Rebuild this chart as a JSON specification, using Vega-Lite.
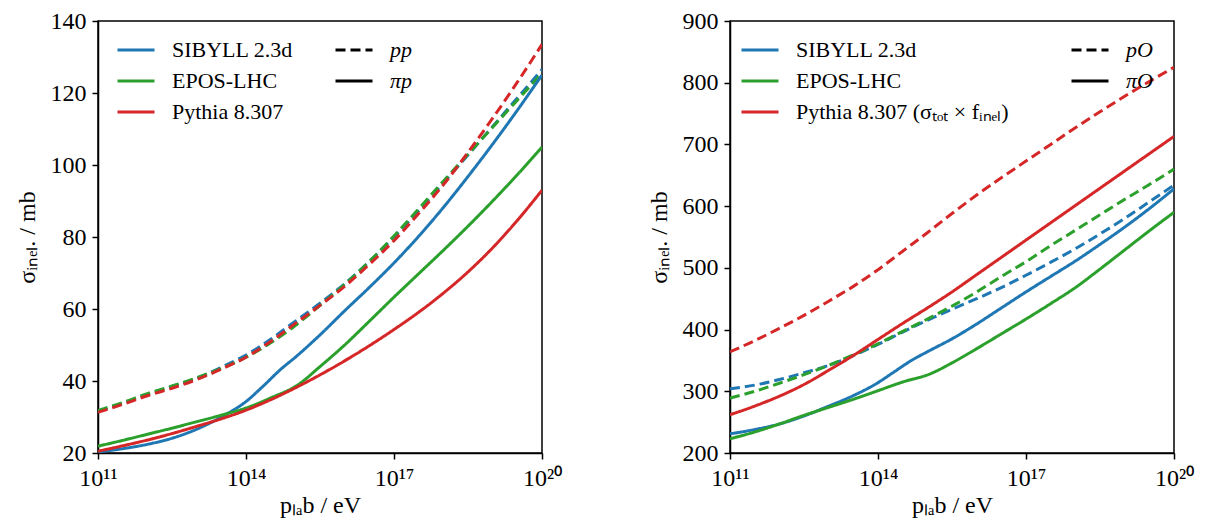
{
  "$schema": "https://vega.github.io/schema/vega-lite/v6.json",
  "padding": {"left": 14, "top": 8, "right": 5, "bottom": 3},
  "datasets": {
    "pp": [
      {"m": "SIBYLL 2.3d", "c": "pp", "E": 1e11, "s": 31.5},
      {"m": "SIBYLL 2.3d", "c": "pp", "E": 3.162e11, "s": 33.8},
      {"m": "SIBYLL 2.3d", "c": "pp", "E": 1e12, "s": 36.2},
      {"m": "SIBYLL 2.3d", "c": "pp", "E": 3.162e12, "s": 38.5},
      {"m": "SIBYLL 2.3d", "c": "pp", "E": 1e13, "s": 40.8},
      {"m": "SIBYLL 2.3d", "c": "pp", "E": 3.162e13, "s": 43.8},
      {"m": "SIBYLL 2.3d", "c": "pp", "E": 1e14, "s": 47.2},
      {"m": "SIBYLL 2.3d", "c": "pp", "E": 3.162e14, "s": 51.6},
      {"m": "SIBYLL 2.3d", "c": "pp", "E": 1e15, "s": 56.6},
      {"m": "SIBYLL 2.3d", "c": "pp", "E": 3.162e15, "s": 61.6},
      {"m": "SIBYLL 2.3d", "c": "pp", "E": 1e16, "s": 67.0},
      {"m": "SIBYLL 2.3d", "c": "pp", "E": 3.162e16, "s": 73.2},
      {"m": "SIBYLL 2.3d", "c": "pp", "E": 1e17, "s": 80.0},
      {"m": "SIBYLL 2.3d", "c": "pp", "E": 3.162e17, "s": 87.3},
      {"m": "SIBYLL 2.3d", "c": "pp", "E": 1e18, "s": 95.0},
      {"m": "SIBYLL 2.3d", "c": "pp", "E": 3.162e18, "s": 102.8},
      {"m": "SIBYLL 2.3d", "c": "pp", "E": 1e19, "s": 110.7},
      {"m": "SIBYLL 2.3d", "c": "pp", "E": 3.162e19, "s": 118.6},
      {"m": "SIBYLL 2.3d", "c": "pp", "E": 1e20, "s": 126.5},
      {"m": "EPOS-LHC", "c": "pp", "E": 1e11, "s": 31.8},
      {"m": "EPOS-LHC", "c": "pp", "E": 3.162e11, "s": 34.0},
      {"m": "EPOS-LHC", "c": "pp", "E": 1e12, "s": 36.5},
      {"m": "EPOS-LHC", "c": "pp", "E": 3.162e12, "s": 38.6},
      {"m": "EPOS-LHC", "c": "pp", "E": 1e13, "s": 40.9},
      {"m": "EPOS-LHC", "c": "pp", "E": 3.162e13, "s": 43.5},
      {"m": "EPOS-LHC", "c": "pp", "E": 1e14, "s": 46.6},
      {"m": "EPOS-LHC", "c": "pp", "E": 3.162e14, "s": 50.6},
      {"m": "EPOS-LHC", "c": "pp", "E": 1e15, "s": 55.4},
      {"m": "EPOS-LHC", "c": "pp", "E": 3.162e15, "s": 61.0},
      {"m": "EPOS-LHC", "c": "pp", "E": 1e16, "s": 66.8},
      {"m": "EPOS-LHC", "c": "pp", "E": 3.162e16, "s": 73.2},
      {"m": "EPOS-LHC", "c": "pp", "E": 1e17, "s": 80.3},
      {"m": "EPOS-LHC", "c": "pp", "E": 3.162e17, "s": 87.8},
      {"m": "EPOS-LHC", "c": "pp", "E": 1e18, "s": 95.5},
      {"m": "EPOS-LHC", "c": "pp", "E": 3.162e18, "s": 103.0},
      {"m": "EPOS-LHC", "c": "pp", "E": 1e19, "s": 110.5},
      {"m": "EPOS-LHC", "c": "pp", "E": 3.162e19, "s": 118.0},
      {"m": "EPOS-LHC", "c": "pp", "E": 1e20, "s": 125.5},
      {"m": "Pythia 8.307", "c": "pp", "E": 1e11, "s": 31.3},
      {"m": "Pythia 8.307", "c": "pp", "E": 3.162e11, "s": 33.5},
      {"m": "Pythia 8.307", "c": "pp", "E": 1e12, "s": 35.9},
      {"m": "Pythia 8.307", "c": "pp", "E": 3.162e12, "s": 38.0},
      {"m": "Pythia 8.307", "c": "pp", "E": 1e13, "s": 40.4},
      {"m": "Pythia 8.307", "c": "pp", "E": 3.162e13, "s": 43.3},
      {"m": "Pythia 8.307", "c": "pp", "E": 1e14, "s": 46.6},
      {"m": "Pythia 8.307", "c": "pp", "E": 3.162e14, "s": 51.0},
      {"m": "Pythia 8.307", "c": "pp", "E": 1e15, "s": 56.0},
      {"m": "Pythia 8.307", "c": "pp", "E": 3.162e15, "s": 61.0},
      {"m": "Pythia 8.307", "c": "pp", "E": 1e16, "s": 66.3},
      {"m": "Pythia 8.307", "c": "pp", "E": 3.162e16, "s": 72.4},
      {"m": "Pythia 8.307", "c": "pp", "E": 1e17, "s": 79.0},
      {"m": "Pythia 8.307", "c": "pp", "E": 3.162e17, "s": 86.5},
      {"m": "Pythia 8.307", "c": "pp", "E": 1e18, "s": 94.5},
      {"m": "Pythia 8.307", "c": "pp", "E": 3.162e18, "s": 103.5},
      {"m": "Pythia 8.307", "c": "pp", "E": 1e19, "s": 113.0},
      {"m": "Pythia 8.307", "c": "pp", "E": 3.162e19, "s": 123.0},
      {"m": "Pythia 8.307", "c": "pp", "E": 1e20, "s": 133.5},
      {"m": "SIBYLL 2.3d", "c": "πp", "E": 1e11, "s": 20.3},
      {"m": "SIBYLL 2.3d", "c": "πp", "E": 3.162e11, "s": 21.2},
      {"m": "SIBYLL 2.3d", "c": "πp", "E": 1e12, "s": 22.4},
      {"m": "SIBYLL 2.3d", "c": "πp", "E": 3.162e12, "s": 24.1},
      {"m": "SIBYLL 2.3d", "c": "πp", "E": 1e13, "s": 26.6},
      {"m": "SIBYLL 2.3d", "c": "πp", "E": 3.162e13, "s": 30.0},
      {"m": "SIBYLL 2.3d", "c": "πp", "E": 1e14, "s": 34.3},
      {"m": "SIBYLL 2.3d", "c": "πp", "E": 2.239e14, "s": 38.6},
      {"m": "SIBYLL 2.3d", "c": "πp", "E": 5.012e14, "s": 43.2},
      {"m": "SIBYLL 2.3d", "c": "πp", "E": 1e15, "s": 46.6},
      {"m": "SIBYLL 2.3d", "c": "πp", "E": 3.162e15, "s": 52.8},
      {"m": "SIBYLL 2.3d", "c": "πp", "E": 1e16, "s": 59.5},
      {"m": "SIBYLL 2.3d", "c": "πp", "E": 3.162e16, "s": 66.0},
      {"m": "SIBYLL 2.3d", "c": "πp", "E": 1e17, "s": 72.8},
      {"m": "SIBYLL 2.3d", "c": "πp", "E": 3.162e17, "s": 80.2},
      {"m": "SIBYLL 2.3d", "c": "πp", "E": 1e18, "s": 88.2},
      {"m": "SIBYLL 2.3d", "c": "πp", "E": 3.162e18, "s": 96.8},
      {"m": "SIBYLL 2.3d", "c": "πp", "E": 1e19, "s": 105.8},
      {"m": "SIBYLL 2.3d", "c": "πp", "E": 3.162e19, "s": 115.2},
      {"m": "SIBYLL 2.3d", "c": "πp", "E": 1e20, "s": 125.0},
      {"m": "EPOS-LHC", "c": "πp", "E": 1e11, "s": 21.9},
      {"m": "EPOS-LHC", "c": "πp", "E": 3.162e11, "s": 23.5},
      {"m": "EPOS-LHC", "c": "πp", "E": 1e12, "s": 25.2},
      {"m": "EPOS-LHC", "c": "πp", "E": 3.162e12, "s": 26.9},
      {"m": "EPOS-LHC", "c": "πp", "E": 1e13, "s": 28.7},
      {"m": "EPOS-LHC", "c": "πp", "E": 3.162e13, "s": 30.5},
      {"m": "EPOS-LHC", "c": "πp", "E": 1e14, "s": 32.5},
      {"m": "EPOS-LHC", "c": "πp", "E": 3.162e14, "s": 35.3},
      {"m": "EPOS-LHC", "c": "πp", "E": 1.148e15, "s": 39.0},
      {"m": "EPOS-LHC", "c": "πp", "E": 3.162e15, "s": 44.0},
      {"m": "EPOS-LHC", "c": "πp", "E": 1e16, "s": 50.0},
      {"m": "EPOS-LHC", "c": "πp", "E": 3.162e16, "s": 56.6},
      {"m": "EPOS-LHC", "c": "πp", "E": 1e17, "s": 63.3},
      {"m": "EPOS-LHC", "c": "πp", "E": 3.162e17, "s": 69.8},
      {"m": "EPOS-LHC", "c": "πp", "E": 1e18, "s": 76.3},
      {"m": "EPOS-LHC", "c": "πp", "E": 3.162e18, "s": 83.0},
      {"m": "EPOS-LHC", "c": "πp", "E": 1e19, "s": 90.0},
      {"m": "EPOS-LHC", "c": "πp", "E": 3.162e19, "s": 97.3},
      {"m": "EPOS-LHC", "c": "πp", "E": 1e20, "s": 105.0},
      {"m": "Pythia 8.307", "c": "πp", "E": 1e11, "s": 20.5},
      {"m": "Pythia 8.307", "c": "πp", "E": 3.162e11, "s": 22.0},
      {"m": "Pythia 8.307", "c": "πp", "E": 1e12, "s": 23.6},
      {"m": "Pythia 8.307", "c": "πp", "E": 3.162e12, "s": 25.4},
      {"m": "Pythia 8.307", "c": "πp", "E": 1e13, "s": 27.4},
      {"m": "Pythia 8.307", "c": "πp", "E": 3.162e13, "s": 29.5},
      {"m": "Pythia 8.307", "c": "πp", "E": 1e14, "s": 31.9},
      {"m": "Pythia 8.307", "c": "πp", "E": 3.162e14, "s": 34.8},
      {"m": "Pythia 8.307", "c": "πp", "E": 1e15, "s": 38.1},
      {"m": "Pythia 8.307", "c": "πp", "E": 3.162e15, "s": 41.7},
      {"m": "Pythia 8.307", "c": "πp", "E": 1e16, "s": 45.6},
      {"m": "Pythia 8.307", "c": "πp", "E": 3.162e16, "s": 49.8},
      {"m": "Pythia 8.307", "c": "πp", "E": 1e17, "s": 54.3},
      {"m": "Pythia 8.307", "c": "πp", "E": 3.162e17, "s": 59.1},
      {"m": "Pythia 8.307", "c": "πp", "E": 1e18, "s": 64.4},
      {"m": "Pythia 8.307", "c": "πp", "E": 3.162e18, "s": 70.3},
      {"m": "Pythia 8.307", "c": "πp", "E": 1e19, "s": 77.0},
      {"m": "Pythia 8.307", "c": "πp", "E": 3.162e19, "s": 84.6},
      {"m": "Pythia 8.307", "c": "πp", "E": 1e20, "s": 93.0}
    ],
    "pO": [
      {"m": "SIBYLL 2.3d", "c": "pO", "E": 1e11, "s": 304},
      {"m": "SIBYLL 2.3d", "c": "pO", "E": 3.162e11, "s": 310},
      {"m": "SIBYLL 2.3d", "c": "pO", "E": 1e12, "s": 319},
      {"m": "SIBYLL 2.3d", "c": "pO", "E": 3.162e12, "s": 330},
      {"m": "SIBYLL 2.3d", "c": "pO", "E": 1e13, "s": 342},
      {"m": "SIBYLL 2.3d", "c": "pO", "E": 3.162e13, "s": 358},
      {"m": "SIBYLL 2.3d", "c": "pO", "E": 1e14, "s": 376},
      {"m": "SIBYLL 2.3d", "c": "pO", "E": 3.162e14, "s": 396},
      {"m": "SIBYLL 2.3d", "c": "pO", "E": 1e15, "s": 415},
      {"m": "SIBYLL 2.3d", "c": "pO", "E": 3.162e15, "s": 433},
      {"m": "SIBYLL 2.3d", "c": "pO", "E": 1e16, "s": 450},
      {"m": "SIBYLL 2.3d", "c": "pO", "E": 3.162e16, "s": 468},
      {"m": "SIBYLL 2.3d", "c": "pO", "E": 1e17, "s": 488},
      {"m": "SIBYLL 2.3d", "c": "pO", "E": 3.162e17, "s": 509},
      {"m": "SIBYLL 2.3d", "c": "pO", "E": 1e18, "s": 531},
      {"m": "SIBYLL 2.3d", "c": "pO", "E": 3.162e18, "s": 555},
      {"m": "SIBYLL 2.3d", "c": "pO", "E": 1e19, "s": 580},
      {"m": "SIBYLL 2.3d", "c": "pO", "E": 3.162e19, "s": 607},
      {"m": "SIBYLL 2.3d", "c": "pO", "E": 1e20, "s": 634},
      {"m": "EPOS-LHC", "c": "pO", "E": 1e11, "s": 289},
      {"m": "EPOS-LHC", "c": "pO", "E": 3.162e11, "s": 300},
      {"m": "EPOS-LHC", "c": "pO", "E": 1e12, "s": 313},
      {"m": "EPOS-LHC", "c": "pO", "E": 3.162e12, "s": 327},
      {"m": "EPOS-LHC", "c": "pO", "E": 1e13, "s": 342},
      {"m": "EPOS-LHC", "c": "pO", "E": 3.162e13, "s": 359},
      {"m": "EPOS-LHC", "c": "pO", "E": 1e14, "s": 377},
      {"m": "EPOS-LHC", "c": "pO", "E": 3.162e14, "s": 397},
      {"m": "EPOS-LHC", "c": "pO", "E": 1e15, "s": 417},
      {"m": "EPOS-LHC", "c": "pO", "E": 3.162e15, "s": 438},
      {"m": "EPOS-LHC", "c": "pO", "E": 1e16, "s": 461},
      {"m": "EPOS-LHC", "c": "pO", "E": 3.162e16, "s": 486},
      {"m": "EPOS-LHC", "c": "pO", "E": 1e17, "s": 510},
      {"m": "EPOS-LHC", "c": "pO", "E": 3.162e17, "s": 536},
      {"m": "EPOS-LHC", "c": "pO", "E": 1e18, "s": 561},
      {"m": "EPOS-LHC", "c": "pO", "E": 3.162e18, "s": 586},
      {"m": "EPOS-LHC", "c": "pO", "E": 1e19, "s": 611},
      {"m": "EPOS-LHC", "c": "pO", "E": 3.162e19, "s": 635},
      {"m": "EPOS-LHC", "c": "pO", "E": 1e20, "s": 660},
      {"m": "Pythia 8.307", "c": "pO", "E": 1e11, "s": 364},
      {"m": "Pythia 8.307", "c": "pO", "E": 3.162e11, "s": 382},
      {"m": "Pythia 8.307", "c": "pO", "E": 1e12, "s": 402},
      {"m": "Pythia 8.307", "c": "pO", "E": 3.162e12, "s": 423},
      {"m": "Pythia 8.307", "c": "pO", "E": 1e13, "s": 446},
      {"m": "Pythia 8.307", "c": "pO", "E": 3.162e13, "s": 470},
      {"m": "Pythia 8.307", "c": "pO", "E": 1e14, "s": 497},
      {"m": "Pythia 8.307", "c": "pO", "E": 3.162e14, "s": 527},
      {"m": "Pythia 8.307", "c": "pO", "E": 1e15, "s": 557},
      {"m": "Pythia 8.307", "c": "pO", "E": 3.162e15, "s": 588},
      {"m": "Pythia 8.307", "c": "pO", "E": 1e16, "s": 618},
      {"m": "Pythia 8.307", "c": "pO", "E": 3.162e16, "s": 646},
      {"m": "Pythia 8.307", "c": "pO", "E": 1e17, "s": 673},
      {"m": "Pythia 8.307", "c": "pO", "E": 3.162e17, "s": 700},
      {"m": "Pythia 8.307", "c": "pO", "E": 1e18, "s": 727},
      {"m": "Pythia 8.307", "c": "pO", "E": 3.162e18, "s": 753},
      {"m": "Pythia 8.307", "c": "pO", "E": 1e19, "s": 778},
      {"m": "Pythia 8.307", "c": "pO", "E": 3.162e19, "s": 802},
      {"m": "Pythia 8.307", "c": "pO", "E": 1e20, "s": 825},
      {"m": "SIBYLL 2.3d", "c": "πO", "E": 1e11, "s": 231},
      {"m": "SIBYLL 2.3d", "c": "πO", "E": 3.162e11, "s": 238},
      {"m": "SIBYLL 2.3d", "c": "πO", "E": 1e12, "s": 247},
      {"m": "SIBYLL 2.3d", "c": "πO", "E": 3.162e12, "s": 260},
      {"m": "SIBYLL 2.3d", "c": "πO", "E": 1e13, "s": 276},
      {"m": "SIBYLL 2.3d", "c": "πO", "E": 3.162e13, "s": 293},
      {"m": "SIBYLL 2.3d", "c": "πO", "E": 1e14, "s": 314},
      {"m": "SIBYLL 2.3d", "c": "πO", "E": 1.995e14, "s": 330},
      {"m": "SIBYLL 2.3d", "c": "πO", "E": 5.012e14, "s": 351},
      {"m": "SIBYLL 2.3d", "c": "πO", "E": 1e15, "s": 364},
      {"m": "SIBYLL 2.3d", "c": "πO", "E": 3.162e15, "s": 385},
      {"m": "SIBYLL 2.3d", "c": "πO", "E": 1e16, "s": 409},
      {"m": "SIBYLL 2.3d", "c": "πO", "E": 3.162e16, "s": 435},
      {"m": "SIBYLL 2.3d", "c": "πO", "E": 1e17, "s": 461},
      {"m": "SIBYLL 2.3d", "c": "πO", "E": 3.162e17, "s": 486},
      {"m": "SIBYLL 2.3d", "c": "πO", "E": 1e18, "s": 511},
      {"m": "SIBYLL 2.3d", "c": "πO", "E": 3.162e18, "s": 538},
      {"m": "SIBYLL 2.3d", "c": "πO", "E": 1e19, "s": 566},
      {"m": "SIBYLL 2.3d", "c": "πO", "E": 3.162e19, "s": 596},
      {"m": "SIBYLL 2.3d", "c": "πO", "E": 1e20, "s": 628},
      {"m": "EPOS-LHC", "c": "πO", "E": 1e11, "s": 223},
      {"m": "EPOS-LHC", "c": "πO", "E": 3.162e11, "s": 234},
      {"m": "EPOS-LHC", "c": "πO", "E": 1e12, "s": 247},
      {"m": "EPOS-LHC", "c": "πO", "E": 3.162e12, "s": 261},
      {"m": "EPOS-LHC", "c": "πO", "E": 1e13, "s": 274},
      {"m": "EPOS-LHC", "c": "πO", "E": 3.162e13, "s": 287},
      {"m": "EPOS-LHC", "c": "πO", "E": 1e14, "s": 301},
      {"m": "EPOS-LHC", "c": "πO", "E": 3.162e14, "s": 315},
      {"m": "EPOS-LHC", "c": "πO", "E": 1.122e15, "s": 328},
      {"m": "EPOS-LHC", "c": "πO", "E": 3.162e15, "s": 346},
      {"m": "EPOS-LHC", "c": "πO", "E": 1e16, "s": 369},
      {"m": "EPOS-LHC", "c": "πO", "E": 3.162e16, "s": 393},
      {"m": "EPOS-LHC", "c": "πO", "E": 1e17, "s": 417},
      {"m": "EPOS-LHC", "c": "πO", "E": 3.162e17, "s": 442},
      {"m": "EPOS-LHC", "c": "πO", "E": 1e18, "s": 468},
      {"m": "EPOS-LHC", "c": "πO", "E": 3.162e18, "s": 498},
      {"m": "EPOS-LHC", "c": "πO", "E": 1e19, "s": 529},
      {"m": "EPOS-LHC", "c": "πO", "E": 3.162e19, "s": 560},
      {"m": "EPOS-LHC", "c": "πO", "E": 1e20, "s": 590},
      {"m": "Pythia 8.307", "c": "πO", "E": 1e11, "s": 262},
      {"m": "Pythia 8.307", "c": "πO", "E": 3.162e11, "s": 276},
      {"m": "Pythia 8.307", "c": "πO", "E": 1e12, "s": 292},
      {"m": "Pythia 8.307", "c": "πO", "E": 3.162e12, "s": 311},
      {"m": "Pythia 8.307", "c": "πO", "E": 1e13, "s": 334},
      {"m": "Pythia 8.307", "c": "πO", "E": 3.162e13, "s": 358},
      {"m": "Pythia 8.307", "c": "πO", "E": 1e14, "s": 384},
      {"m": "Pythia 8.307", "c": "πO", "E": 3.162e14, "s": 410},
      {"m": "Pythia 8.307", "c": "πO", "E": 1e15, "s": 435},
      {"m": "Pythia 8.307", "c": "πO", "E": 3.162e15, "s": 461},
      {"m": "Pythia 8.307", "c": "πO", "E": 1e16, "s": 489},
      {"m": "Pythia 8.307", "c": "πO", "E": 3.162e16, "s": 517},
      {"m": "Pythia 8.307", "c": "πO", "E": 1e17, "s": 545},
      {"m": "Pythia 8.307", "c": "πO", "E": 3.162e17, "s": 573},
      {"m": "Pythia 8.307", "c": "πO", "E": 1e18, "s": 601},
      {"m": "Pythia 8.307", "c": "πO", "E": 3.162e18, "s": 629},
      {"m": "Pythia 8.307", "c": "πO", "E": 1e19, "s": 657},
      {"m": "Pythia 8.307", "c": "πO", "E": 3.162e19, "s": 685},
      {"m": "Pythia 8.307", "c": "πO", "E": 1e20, "s": 713}
    ]
  },
  "spacing": 83,
  "hconcat": [
    {
      "width": 444,
      "height": 432,
      "data": {"name": "pp"},
      "mark": {"type": "line", "strokeWidth": 3, "clip": true, "interpolate": "monotone"},
      "encoding": {
        "x": {"field": "E", "type": "quantitative",
          "scale": {"type": "log", "domain": [1e11, 1e20], "nice": false},
          "axis": {"values": [1e11, 1e14, 1e17, 1e20], "labelOverlap": false, "labelFlush": false,
            "labelFont": "Liberation Serif", "titleFont": "Liberation Serif",
            "labelExpr": "datum.value < 1e12 ? '10¹¹' : datum.value < 1e15 ? '10¹⁴' : datum.value < 1e18 ? '10¹⁷' : '10²⁰'",
            "title": "pₗₐb / eV"}},
        "y": {"field": "s", "type": "quantitative",
          "scale": {"domain": [20, 140], "nice": false, "zero": false},
          "axis": {"values": [20, 40, 60, 80, 100, 120, 140], "labelFlush": false,
            "labelFont": "Liberation Serif", "titleFont": "Liberation Serif", "title": "σᵢₙₑₗ. / mb"}},
        "color": {"field": "m", "type": "nominal",
          "scale": {"domain": ["SIBYLL 2.3d", "EPOS-LHC", "Pythia 8.307"], "range": ["#1f77b4", "#2ca02c", "#d62728"]},
          "legend": {"orient": "none", "legendX": 18, "legendY": 9, "title": null, "labelFont": "Liberation Serif"}},
        "strokeDash": {"field": "c", "type": "nominal",
          "scale": {"domain": ["pp", "πp"], "range": [[10, 5], [1, 0]]},
          "legend": {"orient": "none", "legendX": 236, "legendY": 9, "title": null, "labelFont": "Liberation Serif", "labelFontStyle": "italic", "symbolStrokeColor": "black"}}
      }
    },
    {
      "width": 444,
      "height": 432,
      "data": {"name": "pO"},
      "mark": {"type": "line", "strokeWidth": 3, "clip": true, "interpolate": "monotone"},
      "encoding": {
        "x": {"field": "E", "type": "quantitative",
          "scale": {"type": "log", "domain": [1e11, 1e20], "nice": false},
          "axis": {"values": [1e11, 1e14, 1e17, 1e20], "labelOverlap": false, "labelFlush": false,
            "labelFont": "Liberation Serif", "titleFont": "Liberation Serif",
            "labelExpr": "datum.value < 1e12 ? '10¹¹' : datum.value < 1e15 ? '10¹⁴' : datum.value < 1e18 ? '10¹⁷' : '10²⁰'",
            "title": "pₗₐb / eV"}},
        "y": {"field": "s", "type": "quantitative",
          "scale": {"domain": [200, 900], "nice": false, "zero": false},
          "axis": {"values": [200, 300, 400, 500, 600, 700, 800, 900], "labelFlush": false,
            "labelFont": "Liberation Serif", "titleFont": "Liberation Serif", "title": "σᵢₙₑₗ. / mb"}},
        "color": {"field": "m", "type": "nominal",
          "scale": {"domain": ["SIBYLL 2.3d", "EPOS-LHC", "Pythia 8.307"], "range": ["#1f77b4", "#2ca02c", "#d62728"]},
          "legend": {"orient": "none", "legendX": 10, "legendY": 9, "title": null, "labelFont": "Liberation Serif",
            "labelExpr": "datum.label == 'Pythia 8.307' ? 'Pythia 8.307 (σₜₒₜ × fᵢₙₑₗ)' : datum.label"}},
        "strokeDash": {"field": "c", "type": "nominal",
          "scale": {"domain": ["pO", "πO"], "range": [[10, 5], [1, 0]]},
          "legend": {"orient": "none", "legendX": 340, "legendY": 9, "title": null, "labelFont": "Liberation Serif", "labelFontStyle": "italic", "symbolStrokeColor": "black"}}
      }
    }
  ],
  "resolve": {
    "scale": {"x": "independent", "y": "independent", "color": "independent", "strokeDash": "independent"},
    "legend": {"color": "independent", "strokeDash": "independent"}
  },
  "config": {
    "font": "Liberation Serif",
    "background": "white",
    "view": {"stroke": "black", "strokeWidth": 1.5},
    "axis": {
      "grid": false, "domainColor": "black", "domainWidth": 1.5, "tickColor": "black", "tickWidth": 1.5,
      "tickSize": 6, "labelPadding": 7, "labelColor": "black", "titleColor": "black",
      "labelFontSize": 24, "titleFontSize": 24, "titleFontWeight": "normal"
    },
    "axisY": {"titlePadding": 11, "labelPadding": 6},
    "axisX": {"titlePadding": 3},
    "legend": {
      "symbolType": "stroke", "symbolSize": 1369, "symbolStrokeWidth": 3, "rowPadding": -6,
      "labelFontSize": 22, "labelColor": "black", "labelOffset": 16,
      "padding": 0, "labelLimit": 400
    }
  }
}
